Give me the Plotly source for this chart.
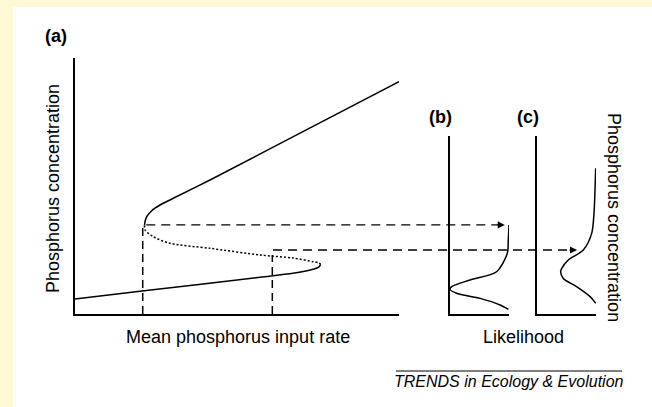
import plotly.graph_objects as go

# ---------------- data ----------------
# Panel (a): equilibrium phosphorus concentration vs mean input rate (0-100 arbitrary units)
upper_rate = [21.45, 21.62, 22.13, 23.67, 26.23, 30.34, 41.67, 67.38, 100.0]
upper_conc = [34.57, 36.13, 38.01, 40.35, 42.58, 45.20, 52.34, 69.26, 90.74]

middle_rate = [21.45, 21.60, 24.17, 29.32, 41.67, 57.10, 67.28, 73.46, 75.22, 75.83]
middle_conc = [34.57, 32.81, 30.20, 27.62, 25.66, 23.05, 21.88, 20.43, 20.00, 19.41]

lower_rate = [0.0, 20.68, 57.10, 67.28, 73.46, 75.22, 75.83]
lower_conc = [5.86, 8.98, 14.34, 15.90, 17.46, 18.28, 19.41]

# two input rates marked by the dashed verticals, and the concentration they reach
marked_rate = [20.9, 60.9]
marked_top = [34.4, 23.0]
# concentrations carried across by the dashed arrows, and where each arrow starts
arrow_conc = [34.8, 25.0]
arrow_start_rate = [22.0, 61.1]
arrow_end_like = [0.93, 0.68]

# Panel (b): likelihood (0-1) vs phosphorus concentration
b_like = [1.0, 0.988, 0.971, 0.79, 0.34, 0.03, 0.0, 0.11, 0.51, 0.85, 0.99]
b_conc = [34.77, 28.9, 23.7, 16.5, 13.3, 10.7, 9.65, 8.1, 6.1, 3.5, 1.8]

# Panel (c)
c_like = [0.995, 0.983, 0.966, 0.927, 0.785, 0.53, 0.42, 0.40, 0.446, 0.67, 0.90, 0.995]
c_conc = [56.9, 48.4, 39.3, 31.5, 25.0, 21.1, 17.85, 16.5, 13.9, 10.7, 6.8, 4.2]

# ---------------- layout geometry ----------------
W, H = 652, 407
FONT = "Liberation Sans, Arial, Helvetica, sans-serif"
YELLOW = "rgb(255,249,214)"

def px_x(p):
    return p / W

def px_y(p):
    return 1 - p / H

a_dom_x = [px_x(75), px_x(399)]
a_dom_y = [px_y(314), px_y(58)]
b_dom_x = [px_x(450), px_x(509)]
c_dom_x = [px_x(537), px_x(596)]
bc_dom_y = [px_y(314), px_y(136)]

a_xr = [0, 100]
a_yr = [0, 100]
bc_top = a_yr[1] * (bc_dom_y[1] - bc_dom_y[0]) / (a_dom_y[1] - a_dom_y[0])
bc_yr = [0, bc_top]
like_r = [0, 1]

def to_paper(v, dom, rng):
    return dom[0] + (v - rng[0]) / (rng[1] - rng[0]) * (dom[1] - dom[0])

fig = go.Figure()

fig.add_trace(go.Scatter(x=upper_rate, y=upper_conc, mode="lines",
                         line=dict(color="black", width=1.5, shape="spline", smoothing=0.8),
                         xaxis="x", yaxis="y", hoverinfo="skip"))
fig.add_trace(go.Scatter(x=middle_rate, y=middle_conc, mode="lines",
                         line=dict(color="black", width=1.5, shape="spline", smoothing=0.8, dash="2px,2px"),
                         xaxis="x", yaxis="y", hoverinfo="skip"))
fig.add_trace(go.Scatter(x=lower_rate, y=lower_conc, mode="lines",
                         line=dict(color="black", width=1.5, shape="spline", smoothing=0.8),
                         xaxis="x", yaxis="y", hoverinfo="skip"))

for r, t in zip(marked_rate, marked_top):
    fig.add_trace(go.Scatter(x=[r, r], y=[0, t], mode="lines",
                             line=dict(color="black", width=1.5, dash="8px,5px"),
                             xaxis="x", yaxis="y", hoverinfo="skip"))

fig.add_trace(go.Scatter(x=b_like, y=b_conc, mode="lines",
                         line=dict(color="black", width=1.5, shape="spline", smoothing=0.8),
                         xaxis="x2", yaxis="y2", hoverinfo="skip"))
fig.add_trace(go.Scatter(x=c_like, y=c_conc, mode="lines",
                         line=dict(color="black", width=1.5, shape="spline", smoothing=0.8),
                         xaxis="x3", yaxis="y3", hoverinfo="skip"))

shapes = [
    dict(type="rect", xref="paper", yref="paper", x0=0, x1=1, y0=0, y1=1,
         fillcolor=YELLOW, line=dict(width=0), layer="below"),
    dict(type="rect", xref="paper", yref="paper", x0=px_x(13), x1=1, y0=0, y1=px_y(7),
         fillcolor="white", line=dict(width=0), layer="below"),
    dict(type="line", xref="paper", yref="paper", x0=px_x(396), x1=px_x(622),
         y0=px_y(371), y1=px_y(371), line=dict(color="black", width=1)),
]

annotations = []
end_doms = [b_dom_x, c_dom_x]
for conc, start, end, edom in zip(arrow_conc, arrow_start_rate, arrow_end_like, end_doms):
    x0 = to_paper(start, a_dom_x, a_xr)
    x1 = to_paper(end, edom, like_r)
    yp = to_paper(conc, a_dom_y, a_yr)
    shapes.append(dict(type="line", xref="paper", yref="paper", x0=x0, x1=x1 - 6 / W,
                       y0=yp, y1=yp, line=dict(color="black", width=1.4, dash="9px,6px")))
    annotations.append(dict(x=x1, y=yp, xref="paper", yref="paper", ax=-9, ay=0,
                            axref="pixel", ayref="pixel", showarrow=True, arrowhead=2,
                            arrowsize=1.1, arrowwidth=1.3, arrowcolor="black", text=""))

def label(text, x, y, size=18, bold=False, angle=0, italic=False):
    t = f"<b>{text}</b>" if bold else (f"<i>{text}</i>" if italic else text)
    annotations.append(dict(text=t, x=px_x(x), y=px_y(y), xref="paper", yref="paper",
                            showarrow=False, textangle=angle, xanchor="center", yanchor="middle",
                            font=dict(family=FONT, size=size, color="black")))

label("(a)", 56, 36, bold=True)
label("(b)", 440, 117, bold=True)
label("(c)", 527.5, 117, bold=True)
label("Phosphorus concentration", 53, 189, angle=-90)
label("Phosphorus concentration", 614, 217, angle=90)
label("Mean phosphorus input rate", 238, 337)
label("Likelihood", 523, 337)
label("TRENDS in Ecology &amp; Evolution", 509, 381, size=16, italic=True)

ax_common = dict(showgrid=False, zeroline=False, showticklabels=False, ticks="",
                 showline=True, linecolor="black", linewidth=1.8, fixedrange=True)

fig.update_layout(
    width=W, height=H,
    margin=dict(l=0, r=0, t=0, b=0),
    paper_bgcolor="white", plot_bgcolor="rgba(0,0,0,0)",
    showlegend=False,
    shapes=shapes, annotations=annotations,
    xaxis=dict(domain=a_dom_x, range=a_xr, anchor="y", **ax_common),
    yaxis=dict(domain=a_dom_y, range=a_yr, anchor="x", **ax_common),
    xaxis2=dict(domain=b_dom_x, range=like_r, anchor="y2", **ax_common),
    yaxis2=dict(domain=bc_dom_y, range=bc_yr, anchor="x2", **ax_common),
    xaxis3=dict(domain=c_dom_x, range=like_r, anchor="y3", **ax_common),
    yaxis3=dict(domain=bc_dom_y, range=bc_yr, anchor="x3", **ax_common),
    font=dict(family=FONT),
)

fig.write_html("out.html", config={"displayModeBar": False},
               post_script="document.body.style.margin='0';document.body.style.overflow='hidden';")
